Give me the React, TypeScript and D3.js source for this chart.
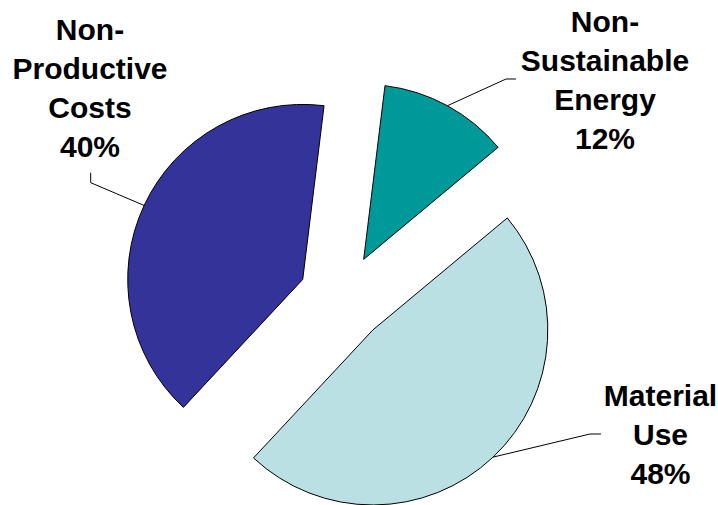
import React from "react";
import * as d3 from "d3";

const categories = ["Non-Sustainable Energy", "Material Use", "Non-Productive Costs"];
const values = [12, 48, 40];
const labelLines = [
  ["Non-", "Sustainable", "Energy", "12%"],
  ["Material", "Use", "48%"],
  ["Non-", "Productive", "Costs", "40%"],
];
const colors = ["#009999", "#BBE0E3", "#333399"];

// layout
const W = 718;
const H = 505;
const CX = 342.6;
const CY = 298;
const R = 175;
const EXPLODE = 44;
const START_DEG = 7;
const LINE_H = 39;
const labelLayout = [
  { x: 605, y: 32, elbow: [506, 79], end: [516, 79] },
  { x: 660.5, y: 406, elbow: [590, 434], end: [601, 434] },
  { x: 90, y: 40, elbow: [90.7, 182.7], end: [90.7, 172.7] },
];

export default function App() {
  const start = (START_DEG * Math.PI) / 180;
  const pie = d3
    .pie<number>()
    .sort(null)
    .value((d) => d)
    .startAngle(start)
    .endAngle(start + 2 * Math.PI);
  const arcs = pie(values);
  const arc = d3.arc<d3.PieArcDatum<number>>().innerRadius(0).outerRadius(R);

  return (
    <svg
      width={W}
      height={H}
      style={{ position: "absolute", left: 0, top: 0, background: "#fff" }}
      fontFamily="Arial, 'Liberation Sans', sans-serif"
    >
      <rect x={0} y={0} width={W} height={H} fill="#fff" />
      {arcs.map((a, i) => {
        const mid = (a.startAngle + a.endAngle) / 2;
        const ox = CX + EXPLODE * Math.sin(mid);
        const oy = CY - EXPLODE * Math.cos(mid);
        const px = ox + R * Math.sin(mid);
        const py = oy - R * Math.cos(mid);
        const L = labelLayout[i];
        return (
          <g key={categories[i]}>
            <path
              d={arc(a) || ""}
              transform={`translate(${ox},${oy})`}
              fill={colors[i]}
              stroke="#000"
              strokeWidth={1}
              strokeLinejoin="round"
            />
            <polyline
              points={`${px},${py} ${L.elbow[0]},${L.elbow[1]} ${L.end[0]},${L.end[1]}`}
              fill="none"
              stroke="#000"
              strokeWidth={1}
            />
          </g>
        );
      })}
      {labelLines.map((lines, i) => (
        <text
          key={"l" + i}
          x={labelLayout[i].x}
          y={labelLayout[i].y}
          textAnchor="middle"
          fontSize={30}
          fontWeight="bold"
          fill="#000"
        >
          {lines.map((t, j) => (
            <tspan key={j} x={labelLayout[i].x} y={labelLayout[i].y + j * LINE_H}>
              {t}
            </tspan>
          ))}
        </text>
      ))}
    </svg>
  );
}
